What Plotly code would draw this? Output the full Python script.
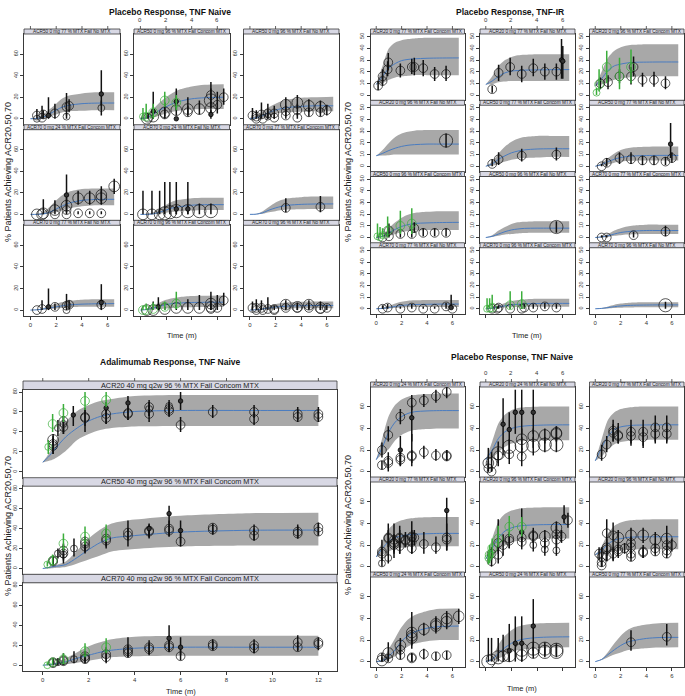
import math
import plotly.graph_objects as go

W, H = 685, 696

# ---------------- data ----------------
T6 = [0, 0.5, 1, 1.5, 2, 2.5, 3, 4, 5, 6.5]
T12 = [0, 0.25, 0.5, 1, 1.5, 2, 2.5, 3, 4, 6, 9, 12]
X6_TICKS = [0, 2, 4, 6]
X12_TICKS = [0, 2, 4, 6, 8, 10, 12]
Y_TICKS_TL = [0, 20, 40, 60]
Y_TICKS_TR = [0, 10, 20, 30, 40, 50]
Y_TICKS_BL = [0, 20, 40, 60, 80]
Y_TICKS_BR = [0, 20, 40, 60]

TITLES = ["Placebo Response, TNF Naive", "Placebo Response, TNF-IR",
          "Adalimumab Response, TNF Naive", "Placebo Response, TNF Naive"]
X_TITLE = "Time (m)"
Y_TITLE = "% Patients Achieving ACR20,50,70"

# observation tuples: (time, % responders, lower CI, upper CI, N, kind)
# kind: 'o' black open circle, 'g' green open circle, 'd' small black dot

# ---- Placebo Response, TNF Naive (top left) ----
tl11 = dict(strip="ACR50 0 mg 77 % MTX Fail No MTX",
            med=[0, 0.3, 1.5, 4.5, 8, 11, 12.5, 14, 14.5, 14.6],
            lo=[0, 0, 0.5, 2, 4, 6, 7, 7.5, 8, 8],
            hi=[0.5, 1, 4, 9, 14, 19, 21.5, 23.5, 24.5, 24.5],
            obs=[(0.5, 3, 0, 9, 40, 'o'), (0.5, 0, 0, 0, 15, 'o'), (0.9, 1, 0, 12, 40, 'o'),
                 (1.0, 4, 0, 8, 40, 'o'), (1.4, 3, 0, 20, 5, 'd'), (1.9, 5, 0, 14, 40, 'o'),
                 (2.8, 11, 3, 24, 40, 'o'), (2.8, 2, 0, 5, 15, 'o'), (3.0, 12, 6, 18, 40, 'o'),
                 (5.5, 23, 12, 45, 5, 'd'), (5.5, 10, 3, 17, 15, 'o')])
tl12 = dict(strip="ACR50 0 mg 96 % MTX Fail Concom MTX",
            med=[0, 1, 4, 8, 11, 14, 16, 18.5, 19.5, 20],
            lo=[0, 0, 1, 3, 5, 6.5, 7.5, 8.5, 9, 9],
            hi=[1, 3, 9, 15, 20, 24, 27, 30, 31.5, 32],
            obs=[(0.5, 0, 0, 0, 80, 'o'), (0.6, 1, 0, 5, 40, 'o'), (1.0, 7, 0, 25, 5, 'd'),
                 (1.0, 2, 0, 8, 80, 'o'), (1.9, 6, 2, 15, 80, 'o'), (1.9, 4, 0, 10, 40, 'o'),
                 (2.8, 16, 8, 28, 5, 'd'), (2.8, 8, 3, 14, 80, 'o'), (2.8, 0, 0, 0, 5, 'd'),
                 (3.7, 9, 4, 20, 80, 'o'), (3.7, 6, 2, 12, 40, 'o'), (4.6, 9, 4, 17, 80, 'o'),
                 (5.5, 17, 10, 28, 150, 'o'), (5.5, 22, 14, 34, 40, 'o'), (5.5, 10, 5, 16, 80, 'o'),
                 (5.5, 4, 0, 8, 5, 'd'), (6.0, 13, 5, 25, 40, 'o'), (6.5, 20, 13, 28, 40, 'o'),
                 (0.2, 2, 0, 10, 15, 'g'), (0.45, 2, 0, 14, 40, 'g'), (1.0, 6, 0, 14, 40, 'g'),
                 (1.9, 17, 11, 25, 40, 'g'), (2.8, 15, 8, 22, 40, 'g')])
tl13 = dict(strip="ACR50 0 mg 96 % MTX Fail No MTX",
            med=[0, 1, 3, 6, 8, 9.5, 10.5, 11.5, 12, 12],
            lo=[0, 0, 1, 3, 4.5, 5.5, 6, 6.5, 7, 7],
            hi=[1, 3, 7, 11, 14, 16.5, 18, 19.5, 20, 20.5],
            obs=[(0.2, 3, 0, 10, 40, 'o'), (0.5, 2, 0, 8, 40, 'o'), (0.5, 0, 0, 0, 40, 'o'),
                 (0.9, 4, 0, 15, 40, 'o'), (1.0, 0, 0, 0, 40, 'o'), (1.4, 5, 0, 14, 40, 'o'),
                 (1.4, 2, 0, 8, 15, 'o'), (1.9, 1, 0, 4, 40, 'o'), (1.9, 5, 0, 12, 40, 'o'),
                 (2.8, 13, 7, 20, 80, 'o'), (2.8, 7, 2, 12, 40, 'o'), (2.8, 3, 0, 8, 40, 'o'),
                 (3.7, 15, 9, 22, 80, 'o'), (3.7, 8, 3, 14, 40, 'o'), (3.7, 1, 0, 4, 40, 'o'),
                 (4.6, 12, 6, 18, 80, 'o'), (4.6, 6, 2, 10, 40, 'o'), (5.5, 11, 5, 17, 80, 'o'),
                 (5.5, 6, 2, 11, 40, 'o'), (6.0, 8, 3, 13, 40, 'o')])
tl21 = dict(strip="ACR70 0 mg 24 % MTX Fail Concom MTX",
            med=[0, 0, 0.5, 2, 5, 8, 10.5, 13, 13.8, 14],
            lo=[0, 0, 0, 0.5, 2, 4, 5.5, 7.5, 8.5, 8.5],
            hi=[0, 0.5, 2, 7, 13, 18, 21, 23.5, 24, 24],
            obs=[(0.5, 0, 0, 0, 80, 'o'), (0.9, 0, 0, 0, 80, 'o'), (1.0, 1, 0, 14, 80, 'o'),
                 (1.9, 4, 0, 13, 80, 'o'), (1.9, 0, 0, 0, 40, 'o'), (2.8, 18, 8, 37, 5, 'd'),
                 (2.8, 8, 2, 15, 80, 'o'), (2.8, 4, 0, 10, 40, 'o'), (2.8, 0, 0, 0, 40, 'o'),
                 (3.7, 15, 9, 22, 80, 'o'), (3.7, 1, 0, 3, 40, 'o'), (4.6, 15, 9, 22, 80, 'o'),
                 (4.6, 1, 0, 3, 40, 'o'), (5.5, 18, 11, 26, 80, 'o'), (5.5, 15, 9, 22, 80, 'o'),
                 (5.5, 1, 0, 3, 40, 'o'), (6.5, 26, 19, 33, 80, 'o')])
tl22 = dict(strip="ACR70 0 mg 24 % MTX Fail No MTX",
            med=[0, 0, 0.5, 2, 4, 6, 7, 8.5, 9, 9],
            lo=[0, 0, 0, 0.5, 1.5, 2.5, 3, 3.5, 4, 4],
            hi=[0, 0.5, 2, 5, 9, 12, 13.5, 15, 15.5, 15.5],
            obs=[(0.2, 0, 0, 22, 80, 'o'), (0.9, 0, 0, 22, 80, 'o'), (1.5, 0, 0, 22, 80, 'o'),
                 (1.9, 1, 0, 30, 150, 'o'), (2.3, 2, 0, 30, 150, 'o'), (2.8, 3, 0, 30, 150, 'o'),
                 (3.7, 3, 0, 30, 150, 'o'), (4.6, 3, 0, 10, 150, 'o'), (5.5, 3, 0, 10, 150, 'o'),
                 (2.8, 5, 0, 8, 5, 'd'), (3.7, 5, 0, 8, 5, 'd')])
tl23 = dict(strip="ACR70 0 mg 77 % MTX Fail Concom MTX",
            med=[0, 0.2, 1.5, 4, 6, 7.5, 8.5, 9.3, 9.6, 9.7],
            lo=[0, 0, 0.5, 2, 3, 4, 4.5, 4.8, 5, 5],
            hi=[0, 0.5, 3, 7, 11, 13.5, 15, 16, 16.5, 16.5],
            obs=[(2.8, 6, 2, 15, 40, 'o'), (5.5, 7, 2, 17, 40, 'o')])
tl31 = dict(strip="ACR70 0 mg 77 % MTX Fail No MTX",
            med=[0, 0.2, 1, 2, 3, 4, 4.8, 5.5, 5.8, 6],
            lo=[0, 0, 0.3, 1, 1.5, 2, 2.5, 3, 3, 3],
            hi=[0, 0.5, 2, 4, 6, 7.5, 8.5, 9.5, 10, 10],
            obs=[(0.5, 0, 0, 0, 40, 'o'), (0.9, 1, 0, 9, 40, 'o'), (1.4, 3, 0, 20, 5, 'd'),
                 (1.9, 3, 0, 6, 40, 'o'), (2.8, 4, 0, 15, 40, 'o'), (2.8, 0, 0, 0, 15, 'o'),
                 (3.0, 5, 1, 9, 40, 'o'), (5.5, 7, 0, 24, 5, 'd'), (5.5, 5, 1, 9, 40, 'o')])
tl32 = dict(strip="ACR70 0 mg 96 % MTX Fail Concom MTX",
            med=[0, 0.5, 2, 3.5, 5, 6, 6.5, 7, 7.2, 7.3],
            lo=[0, 0, 0.5, 1, 1.5, 2, 2.5, 2.7, 2.8, 2.8],
            hi=[0, 1, 4, 7, 9.5, 11, 12, 13, 13.3, 13.5],
            obs=[(0.5, 0, 0, 0, 80, 'o'), (1.0, 0, 0, 8, 80, 'o'), (1.4, 3, 0, 12, 5, 'd'),
                 (1.9, 1, 0, 3, 80, 'o'), (2.8, 2, 0, 5, 80, 'o'), (3.7, 2, 0, 10, 80, 'o'),
                 (4.6, 2, 0, 14, 80, 'o'), (5.5, 6, 2, 17, 80, 'o'), (5.5, 3, 0, 8, 80, 'o'),
                 (5.5, 1, 0, 3, 40, 'o'), (6.0, 2, 0, 14, 40, 'o'), (6.5, 9, 4, 16, 40, 'o'),
                 (0.2, 0, 0, 4, 40, 'g'), (0.45, 0, 0, 6, 40, 'g'), (1.0, 1, 0, 7, 40, 'g'),
                 (1.9, 3, 0, 8, 40, 'g'), (2.8, 6, 1, 17, 40, 'g')])
tl33 = dict(strip="ACR70 0 mg 96 % MTX Fail No MTX",
            med=[0, 0.3, 1, 2, 2.8, 3.3, 3.7, 4, 4.2, 4.3],
            lo=[0, 0, 0.3, 0.7, 1, 1.2, 1.5, 1.7, 1.8, 1.8],
            hi=[0, 0.5, 2, 4, 5.5, 6.5, 7.2, 7.8, 8, 8],
            obs=[(0.2, 2, 0, 8, 40, 'o'), (0.5, 0, 0, 0, 40, 'o'), (0.5, 2, 0, 10, 40, 'o'),
                 (0.9, 2, 0, 9, 40, 'o'), (1.0, 0, 0, 0, 40, 'o'), (1.4, 1, 0, 12, 40, 'o'),
                 (1.9, 0, 0, 0, 40, 'o'), (1.9, 1, 0, 4, 40, 'o'), (2.8, 5, 1, 9, 80, 'o'),
                 (2.8, 2, 0, 5, 40, 'o'), (3.7, 3, 0, 7, 80, 'o'), (3.7, 2, 0, 5, 40, 'o'),
                 (4.6, 5, 1, 9, 80, 'o'), (4.6, 2, 0, 5, 40, 'o'), (5.5, 2, 0, 8, 80, 'o'),
                 (5.5, 1, 0, 3, 40, 'o'), (6.0, 2, 0, 5, 40, 'o')])

# ---- Placebo Response, TNF-IR (top right) ----
tr11 = dict(strip="ACR20 0 mg 77 % MTX Fail Concom MTX",
            med=[9, 16, 23, 27, 29.5, 30.5, 31, 31.5, 31.7, 31.8],
            lo=[9, 10, 13, 15, 16, 16.5, 17, 17, 17, 17],
            hi=[9, 25, 40, 45, 47, 48, 48.5, 49, 49, 49],
            obs=[(0.15, 8, 4, 12, 40, 'o'), (0.5, 12, 8, 17, 40, 'o'), (0.5, 16, 11, 22, 40, 'o'),
                 (0.9, 22, 16, 29, 40, 'o'), (0.95, 28, 21, 36, 40, 'o'), (1.9, 21, 15, 27, 40, 'o'),
                 (2.8, 24, 18, 31, 40, 'o'), (3.0, 24, 17, 32, 40, 'o'), (3.7, 23, 16, 30, 40, 'o'),
                 (4.6, 18, 12, 24, 40, 'o'), (5.5, 18, 12, 25, 40, 'o')])
tr12 = dict(strip="ACR20 0 mg 77 % MTX Fail No MTX",
            med=[9, 12, 16, 19, 20.5, 21, 21.3, 21.5, 21.7, 21.8],
            lo=[9, 9.5, 11, 11.5, 12, 12, 12, 12, 12, 12],
            hi=[9, 16, 25, 30, 32.5, 34, 34.5, 35, 35, 35],
            obs=[(0.5, 5, 2, 8, 40, 'o'), (1.0, 19, 12, 26, 40, 'o'), (1.9, 24, 17, 32, 40, 'o'),
                 (2.8, 18, 11, 25, 40, 'o'), (3.7, 23, 16, 31, 40, 'o'), (4.6, 20, 13, 27, 40, 'o'),
                 (5.5, 20, 13, 27, 40, 'o'), (5.9, 30, 14, 48, 5, 'd'), (6.0, 29, 14, 42, 5, 'd')])
tr13 = dict(strip="ACR20 0 mg 96 % MTX Fail Concom MTX",
            med=[8, 14, 21, 25, 26.5, 27.5, 28, 28.2, 28.3, 28.3],
            lo=[8, 9, 11, 13, 14, 15, 15.5, 16, 16, 16],
            hi=[8, 20, 32, 38, 41, 42.5, 43, 43.5, 43.5, 43.5],
            obs=[(0.4, 10, 5, 15, 40, 'o'), (1.0, 11, 5, 17, 40, 'o'), (1.9, 16, 10, 22, 40, 'o'),
                 (2.8, 16, 9, 24, 40, 'o'), (3.0, 24, 16, 33, 40, 'o'), (3.7, 13, 7, 19, 40, 'o'),
                 (4.6, 13, 7, 20, 40, 'o'), (5.5, 10, 5, 16, 40, 'o'),
                 (0.1, 2, 0, 6, 15, 'g'), (0.3, 9, 3, 22, 40, 'g'), (0.9, 24, 10, 38, 40, 'g'),
                 (1.9, 16, 5, 32, 40, 'g'), (2.8, 24, 10, 39, 40, 'g')])
tr21 = dict(strip="ACR20 0 mg 96 % MTX Fail No MTX",
            med=[9, 11, 13.5, 15.5, 17, 18, 18.5, 19, 19, 19],
            lo=[9, 9.2, 9.5, 10, 10, 10, 10, 10, 10, 10],
            hi=[9, 14, 20, 25, 28, 29.5, 30.5, 31, 31, 31],
            obs=[(5.5, 22, 16, 28, 150, 'o')])
tr22 = dict(strip="ACR50 0 mg 77 % MTX Fail Concom MTX",
            med=[0, 2, 6, 9, 11.5, 13, 14, 14.8, 15, 15],
            lo=[0, 0.5, 2, 4, 5.5, 6.5, 7, 7.5, 8, 8],
            hi=[0, 4, 11, 17, 21, 23.5, 25, 26, 26, 26],
            obs=[(0.5, 2, 0, 6, 40, 'o'), (1.0, 6, 1, 12, 40, 'o'), (2.8, 9, 4, 15, 40, 'o'),
                 (5.5, 10, 5, 16, 40, 'o')])
tr23 = dict(strip="ACR50 0 mg 77 % MTX Fail No MTX",
            med=[0, 1.5, 4, 6, 7.5, 8.3, 8.8, 9.2, 9.3, 9.3],
            lo=[0, 0.5, 1.5, 3, 4, 4.5, 4.8, 5, 5, 5],
            hi=[0, 3, 7, 11, 14, 15.5, 16.3, 16.8, 17, 17],
            obs=[(0.5, 0, 0, 2, 40, 'o'), (0.9, 3, 0, 7, 40, 'o'), (1.9, 7, 2, 12, 40, 'o'),
                 (2.8, 6, 2, 12, 40, 'o'), (3.7, 5, 1, 9, 40, 'o'), (4.6, 5, 1, 9, 40, 'o'),
                 (5.5, 4, 1, 8, 40, 'o'), (5.9, 19, 7, 37, 5, 'd'), (6.0, 7, 3, 12, 40, 'o')])
tr31 = dict(strip="ACR50 0 mg 96 % MTX Fail Concom MTX",
            med=[0, 1, 4, 7, 9.5, 11, 12, 12.5, 12.8, 13],
            lo=[0, 0.5, 1.5, 3, 4.5, 5.5, 6, 6.5, 6.5, 6.5],
            hi=[0, 2, 8, 13, 17, 19.5, 21, 22, 22.5, 22.5],
            obs=[(0.5, 0, 0, 0, 40, 'o'), (1.0, 1, 0, 3, 40, 'o'), (1.0, 6, 1, 12, 40, 'o'),
                 (1.9, 3, 0, 6, 40, 'o'), (2.8, 3, 0, 6, 40, 'o'), (3.0, 8, 4, 13, 40, 'o'),
                 (3.7, 4, 1, 8, 40, 'o'), (4.6, 4, 1, 8, 40, 'o'), (5.5, 4, 1, 8, 40, 'o'),
                 (0.1, 1, 0, 12, 15, 'g'), (0.3, 0, 0, 9, 15, 'g'), (0.5, 2, 0, 8, 15, 'g'),
                 (0.9, 6, 0, 18, 40, 'g'), (1.9, 10, 3, 23, 40, 'g'), (2.8, 12, 3, 25, 40, 'g')])
tr32 = dict(strip="ACR50 0 mg 96 % MTX Fail No MTX",
            med=[0, 1, 3, 5, 6.5, 7.3, 7.8, 8, 8, 8],
            lo=[0, 0.5, 1.5, 2.5, 3, 3.5, 3.8, 4, 4, 4],
            hi=[0, 2, 6, 9, 11.5, 13, 13.5, 14, 14, 14],
            obs=[(5.5, 9, 4, 14, 150, 'o')])
tr33 = dict(strip="ACR70 0 mg 77 % MTX Fail Concom MTX",
            med=[0, 0.5, 1.5, 3, 4.3, 5, 5.5, 6, 6, 6],
            lo=[0, 0, 0.5, 1.5, 2, 2.5, 2.8, 3, 3, 3],
            hi=[0, 1, 3, 6, 8, 9.5, 10.3, 11, 11, 11],
            obs=[(0.5, 0, 0, 2, 40, 'o'), (0.9, 0, 0, 2, 40, 'o'), (3.0, 2, 0, 5, 40, 'o'),
                 (5.5, 5, 1, 10, 40, 'o')])
tr41 = dict(strip="ACR70 0 mg 77 % MTX Fail No MTX",
            med=[0, 0.3, 1, 2, 2.8, 3.3, 3.6, 3.8, 4, 4],
            lo=[0, 0, 0.3, 0.7, 1, 1.2, 1.4, 1.5, 1.5, 1.5],
            hi=[0, 0.8, 2.5, 4.5, 6, 6.8, 7.2, 7.5, 7.5, 7.5],
            obs=[(0.5, 0, 0, 3, 40, 'o'), (0.9, 1, 0, 4, 40, 'o'), (1.9, 0, 0, 2, 40, 'o'),
                 (2.8, 1, 0, 4, 40, 'o'), (3.7, 0, 0, 2, 40, 'o'), (4.6, 0, 0, 2, 40, 'o'),
                 (5.5, 2, 0, 5, 40, 'o'), (5.9, 1, 0, 12, 5, 'd'), (6.0, 0, 0, 2, 40, 'o')])
tr42 = dict(strip="ACR70 0 mg 96 % MTX Fail Concom MTX",
            med=[0, 0.5, 1.5, 2.5, 3.3, 3.8, 4.2, 4.5, 4.6, 4.6],
            lo=[0, 0, 0.5, 1, 1.3, 1.5, 1.7, 1.8, 1.8, 1.8],
            hi=[0, 1, 3, 5, 6.5, 7.5, 8, 8.5, 8.5, 8.5],
            obs=[(0.5, 0, 0, 0, 40, 'o'), (0.9, 0, 0, 2, 40, 'o'), (1.0, 1, 0, 3, 40, 'o'),
                 (1.9, 0, 0, 2, 40, 'o'), (2.8, 0, 0, 2, 40, 'o'), (3.0, 1, 0, 4, 40, 'o'),
                 (3.7, 1, 0, 4, 40, 'o'), (4.6, 2, 0, 5, 40, 'o'), (5.5, 1, 0, 4, 40, 'o'),
                 (0.1, 0, 0, 9, 15, 'g'), (0.3, 0, 0, 9, 15, 'g'), (0.5, 1, 0, 12, 40, 'g'),
                 (1.9, 3, 0, 15, 40, 'g'), (2.8, 4, 0, 15, 40, 'g')])
tr43 = dict(strip="ACR70 0 mg 96 % MTX Fail No MTX",
            med=[0, 0.3, 1, 1.8, 2.4, 2.8, 3, 3.2, 3.3, 3.3],
            lo=[0, 0, 0.3, 0.6, 0.8, 1, 1.1, 1.2, 1.2, 1.2],
            hi=[0, 0.6, 2, 3.5, 4.5, 5, 5.3, 5.5, 5.5, 5.5],
            obs=[(5.5, 3, 0, 6, 150, 'o')])

# ---- Adalimumab Response, TNF Naive (bottom left) ----
bl1 = dict(strip="ACR20 40 mg q2w 96 % MTX Fail Concom MTX",
           med=[9.7, 15, 22, 35, 44, 51, 55.5, 58, 60.5, 61.5, 61.5, 61.5],
           lo=[9.5, 11, 13, 21, 32, 38, 42, 44, 45.5, 46, 46, 46],
           hi=[10, 18, 28, 50, 61, 67, 71, 73, 76, 77, 77, 77],
           obs=[(0.45, 32, 18, 38, 80, 'o'), (0.45, 28, 20, 36, 40, 'o'), (0.45, 26, 18, 34, 40, 'o'),
                (0.66, 44, 36, 52, 15, 'o'), (0.9, 51, 38, 56, 40, 'o'), (0.9, 45, 38, 52, 40, 'o'),
                (0.9, 48, 40, 56, 15, 'o'), (1.33, 57, 46, 66, 5, 'd'), (1.84, 55, 40, 64, 40, 'o'),
                (1.84, 54, 46, 62, 40, 'o'), (2.76, 64, 56, 70, 5, 'd'), (2.76, 58, 48, 63, 40, 'o'),
                (2.76, 54, 48, 62, 40, 'o'), (3.71, 69, 63, 76, 5, 'd'), (3.71, 59, 52, 66, 40, 'o'),
                (3.71, 58, 52, 64, 40, 'o'), (4.63, 65, 56, 72, 40, 'o'), (4.63, 63, 56, 70, 15, 'o'),
                (4.63, 58, 50, 66, 40, 'o'), (5.5, 66, 58, 72, 15, 'o'), (5.5, 63, 56, 70, 40, 'o'),
                (5.5, 61, 55, 68, 40, 'o'), (6.0, 71, 62, 80, 5, 'd'), (6.0, 47, 40, 55, 40, 'o'),
                (7.4, 60, 54, 67, 40, 'o'), (9.2, 60, 54, 67, 40, 'o'), (9.2, 53, 47, 60, 40, 'o'),
                (11.1, 58, 52, 65, 40, 'o'), (11.1, 55, 50, 62, 40, 'o'), (12.0, 58, 52, 65, 40, 'o'),
                (12.0, 55, 50, 62, 40, 'o'),
                (0.24, 25, 18, 32, 15, 'g'), (0.43, 48, 40, 58, 40, 'g'), (0.9, 59, 50, 68, 40, 'g'),
                (1.84, 71, 62, 80, 40, 'g'), (2.76, 72, 65, 80, 40, 'g')])
bl2 = dict(strip="ACR50 40 mg q2w 96 % MTX Fail Concom MTX",
           med=[0, 1, 2, 4, 11, 19, 26, 30.5, 33, 36.5, 38.3, 38.5],
           lo=[0, 0, 0.5, 1.5, 5, 9, 13, 17, 19.5, 22, 23, 23],
           hi=[0, 1.5, 3, 7, 18, 30, 39, 45, 49, 53, 55.5, 56],
           obs=[(0.45, 7, 3, 12, 40, 'o'), (0.45, 8, 4, 13, 40, 'o'), (0.66, 15, 10, 20, 15, 'o'),
                (0.9, 18, 10, 25, 40, 'o'), (0.9, 15, 5, 24, 40, 'o'), (0.9, 14, 8, 20, 15, 'o'),
                (1.36, 20, 12, 30, 15, 'o'), (1.84, 27, 18, 32, 40, 'o'), (1.84, 25, 15, 32, 40, 'o'),
                (1.84, 22, 16, 28, 40, 'o'), (2.76, 30, 20, 40, 40, 'o'), (2.76, 28, 22, 34, 40, 'o'),
                (3.71, 36, 28, 48, 40, 'o'), (3.71, 33, 22, 40, 40, 'o'), (4.63, 40, 30, 45, 5, 'd'),
                (4.63, 38, 32, 44, 40, 'o'), (4.63, 37, 31, 43, 40, 'o'), (5.5, 40, 32, 48, 40, 'o'),
                (5.5, 38, 32, 45, 40, 'o'), (5.5, 55, 45, 63, 5, 'd'), (6.0, 38, 25, 48, 5, 'd'),
                (6.0, 27, 22, 35, 40, 'o'), (7.4, 41, 34, 45, 40, 'o'), (7.4, 39, 34, 44, 40, 'o'),
                (9.2, 38, 28, 44, 40, 'o'), (9.2, 33, 28, 40, 40, 'o'), (11.1, 37, 30, 44, 40, 'o'),
                (11.1, 35, 30, 42, 40, 'o'), (12.0, 41, 33, 46, 40, 'o'), (12.0, 37, 33, 44, 40, 'o'),
                (0.2, 4, 2, 7, 15, 'g'), (0.43, 8, 3, 14, 40, 'g'), (0.9, 25, 18, 35, 40, 'g'),
                (1.84, 32, 24, 42, 40, 'g'), (2.76, 35, 27, 44, 40, 'g')])
bl3 = dict(strip="ACR70 40 mg q2w 96 % MTX Fail Concom MTX",
           med=[0, 0.5, 1.2, 3.5, 7, 10, 13, 15, 17, 18, 18, 18],
           lo=[0, 0, 0.3, 1, 2.5, 4.5, 6.5, 8, 9, 9.5, 9.5, 9.5],
           hi=[0, 1, 2.5, 7, 13, 19, 23, 26, 28.5, 29.5, 29.5, 29.5],
           obs=[(0.45, 2, 0, 6, 40, 'o'), (0.45, 3, 0, 7, 40, 'o'), (0.66, 3, 0, 7, 15, 'o'),
                (0.9, 5, 0, 12, 40, 'o'), (0.9, 4, 1, 8, 40, 'o'), (1.36, 6, 2, 14, 15, 'o'),
                (1.84, 9, 4, 14, 40, 'o'), (1.84, 7, 3, 12, 40, 'o'), (1.84, 6, 2, 10, 40, 'o'),
                (2.76, 11, 4, 18, 40, 'o'), (2.76, 8, 2, 14, 40, 'o'), (3.71, 16, 8, 28, 40, 'o'),
                (3.71, 14, 9, 20, 40, 'o'), (3.71, 12, 8, 18, 40, 'o'), (4.63, 18, 10, 25, 40, 'o'),
                (4.63, 16, 11, 22, 40, 'o'), (5.5, 27, 18, 40, 5, 'd'), (5.5, 20, 14, 26, 40, 'o'),
                (5.5, 18, 13, 24, 40, 'o'), (6.0, 18, 10, 28, 5, 'd'), (6.0, 9, 5, 15, 40, 'o'),
                (7.4, 21, 15, 26, 40, 'o'), (7.4, 19, 15, 24, 40, 'o'), (9.2, 20, 12, 26, 40, 'o'),
                (9.2, 17, 12, 22, 40, 'o'), (11.1, 23, 15, 30, 40, 'o'), (11.1, 18, 14, 24, 40, 'o'),
                (12.0, 23, 15, 28, 40, 'o'), (12.0, 21, 16, 26, 40, 'o'),
                (0.2, 0, 0, 3, 15, 'g'), (0.43, 3, 0, 7, 40, 'g'), (0.9, 6, 1, 12, 40, 'g'),
                (1.84, 14, 8, 22, 40, 'g'), (2.76, 18, 12, 27, 40, 'g')])

# ---- Placebo Response, TNF Naive (bottom right) ----
br11 = dict(strip="ACR20 0 mg 24 % MTX Fail Concom MTX",
            med=[11, 23, 37, 46, 51, 54, 55.5, 56.3, 56.6, 56.6],
            lo=[11, 16, 21, 29, 34, 37, 38.5, 39.5, 40, 40],
            hi=[11, 32, 52, 62, 67, 69.5, 71, 72, 72.5, 72.5],
            obs=[(0.45, 20, 13, 27, 40, 'o'), (0.45, 6, 2, 10, 40, 'o'), (0.95, 34, 28, 42, 40, 'o'),
                 (0.95, 10, 0, 18, 40, 'o'), (0.95, 8, 3, 14, 40, 'o'), (1.9, 51, 44, 58, 40, 'o'),
                 (1.9, 20, 5, 33, 5, 'd'), (1.9, 13, 6, 20, 40, 'o'), (1.9, 11, 6, 17, 40, 'o'),
                 (2.8, 64, 57, 71, 40, 'o'), (2.8, 50, 28, 62, 5, 'd'), (2.8, 15, 5, 35, 40, 'o'),
                 (2.8, 14, 8, 20, 40, 'o'), (3.75, 66, 60, 72, 40, 'o'), (3.75, 18, 12, 24, 40, 'o'),
                 (4.7, 70, 64, 76, 40, 'o'), (4.7, 15, 10, 21, 40, 'o'), (5.55, 74, 68, 79, 40, 'o'),
                 (5.55, 15, 10, 20, 40, 'o'), (5.55, 14, 10, 20, 40, 'o')])
br12 = dict(strip="ACR20 0 mg 24 % MTX Fail No MTX",
            med=[11, 20, 31, 37, 40, 41.5, 42.3, 43, 43.3, 43.4],
            lo=[11, 13, 18, 23, 26, 27.5, 28.3, 28.8, 29, 29],
            hi=[11, 28, 45, 53, 57, 59, 59.8, 60.2, 60.3, 60.3],
            obs=[(0.2, 8, 0, 22, 80, 'o'), (0.2, 3, 0, 10, 40, 'o'), (0.45, 8, 0, 18, 80, 'o'),
                 (0.45, 0, 0, 2, 40, 'o'), (0.97, 17, 5, 28, 150, 'o'), (0.97, 15, 8, 22, 40, 'o'),
                 (1.35, 44, 15, 68, 5, 'd'), (1.83, 39, 25, 55, 5, 'd'), (1.83, 23, 12, 30, 150, 'o'),
                 (1.83, 16, 7, 25, 40, 'o'), (2.3, 55, 35, 76, 5, 'd'), (2.8, 55, 35, 76, 5, 'd'),
                 (2.8, 30, 20, 40, 80, 'o'), (2.8, 24, 15, 32, 150, 'o'), (2.8, 14, 5, 22, 40, 'o'),
                 (3.7, 55, 35, 76, 5, 'd'), (3.7, 33, 22, 40, 80, 'o'), (3.7, 24, 15, 32, 150, 'o'),
                 (4.6, 34, 26, 40, 80, 'o'), (4.6, 25, 18, 32, 150, 'o'), (5.5, 36, 28, 42, 80, 'o'),
                 (5.5, 35, 28, 42, 80, 'o'), (5.5, 25, 18, 32, 150, 'o')])
br13 = dict(strip="ACR20 0 mg 77 % MTX Fail Concom MTX",
            med=[10, 22, 33, 39, 41.5, 42.5, 43, 43.3, 43.4, 43.4],
            lo=[10, 14, 21, 25.5, 27.5, 28.5, 29, 29.4, 29.5, 29.5],
            hi=[10, 30, 48, 55, 58, 59.3, 60, 60.3, 60.3, 60.3],
            obs=[(0.5, 16, 10, 25, 40, 'o'), (0.9, 25, 18, 33, 40, 'o'), (1.4, 38, 28, 48, 40, 'o'),
                 (1.4, 36, 28, 44, 40, 'o'), (1.8, 34, 26, 45, 40, 'o'), (1.8, 33, 26, 42, 40, 'o'),
                 (2.8, 37, 24, 48, 40, 'o'), (2.8, 33, 26, 42, 40, 'o'), (3.75, 37, 22, 48, 40, 'o'),
                 (3.75, 32, 24, 40, 40, 'o'), (4.7, 41, 26, 52, 40, 'o'), (4.7, 35, 28, 44, 40, 'o'),
                 (5.6, 41, 26, 52, 40, 'o'), (5.6, 35, 28, 44, 40, 'o')])
br21 = dict(strip="ACR20 0 mg 77 % MTX Fail No MTX",
            med=[9, 17, 23.5, 27, 28.5, 29.5, 30, 30.5, 30.8, 30.8],
            lo=[9, 11, 14, 16.5, 17.5, 18.3, 18.7, 19, 19, 19],
            hi=[9, 24, 35, 40.5, 43, 44.5, 45.2, 45.8, 46, 46],
            obs=[(0.45, 14, 5, 25, 40, 'o'), (0.45, 12, 6, 18, 40, 'o'), (0.45, 3, 0, 8, 15, 'o'),
                 (0.95, 27, 10, 40, 40, 'o'), (0.95, 26, 18, 34, 40, 'o'), (0.95, 8, 3, 14, 15, 'o'),
                 (1.4, 25, 8, 40, 40, 'o'), (1.4, 22, 14, 30, 40, 'o'), (1.4, 20, 12, 28, 40, 'o'),
                 (1.85, 27, 12, 38, 40, 'o'), (1.85, 26, 18, 34, 40, 'o'), (1.85, 19, 12, 26, 40, 'o'),
                 (2.3, 25, 18, 32, 40, 'o'), (2.3, 24, 18, 30, 40, 'o'), (2.8, 28, 12, 42, 40, 'o'),
                 (2.8, 27, 20, 34, 40, 'o'), (2.8, 23, 16, 30, 40, 'o'), (2.8, 17, 12, 24, 40, 'o'),
                 (3.0, 27, 20, 34, 40, 'o'), (3.75, 21, 12, 32, 40, 'o'), (4.7, 18, 12, 28, 40, 'o'),
                 (5.55, 27, 15, 40, 40, 'o'), (5.55, 25, 18, 32, 40, 'o'), (5.55, 52, 15, 64, 5, 'd')])
br22 = dict(strip="ACR20 0 mg 96 % MTX Fail Concom MTX",
            med=[7, 17, 27, 33, 36, 37.5, 38.2, 38.8, 39, 39],
            lo=[7, 10, 15, 19.5, 22.5, 24, 25, 25.7, 26, 26],
            hi=[7, 26, 42, 49, 52, 53.5, 54.3, 54.8, 55, 55],
            obs=[(0.45, 5, 0, 10, 40, 'o'), (0.45, 12, 6, 18, 40, 'o'), (0.97, 22, 12, 44, 40, 'o'),
                 (0.97, 11, 3, 20, 40, 'o'), (1.35, 20, 10, 30, 40, 'o'), (1.83, 26, 17, 32, 40, 'o'),
                 (1.83, 24, 17, 30, 40, 'o'), (2.8, 32, 24, 54, 5, 'd'), (2.8, 27, 20, 34, 40, 'o'),
                 (2.8, 23, 16, 30, 40, 'o'), (3.7, 29, 22, 36, 40, 'o'), (3.7, 28, 22, 34, 40, 'o'),
                 (3.7, 20, 14, 26, 15, 'o'), (4.6, 28, 22, 34, 80, 'o'), (4.6, 22, 16, 28, 40, 'o'),
                 (4.6, 16, 10, 22, 15, 'o'), (5.5, 36, 28, 42, 80, 'o'), (5.5, 30, 22, 38, 40, 'o'),
                 (5.5, 25, 18, 32, 40, 'o'), (5.5, 15, 10, 22, 15, 'o'), (5.9, 28, 22, 34, 40, 'o'),
                 (6.1, 46, 40, 57, 5, 'd'), (6.4, 43, 36, 50, 40, 'o'),
                 (0.2, 8, 2, 14, 15, 'g'), (0.3, 11, 3, 20, 40, 'g'), (0.5, 17, 8, 26, 40, 'g'),
                 (0.97, 26, 18, 38, 40, 'g'), (1.83, 37, 28, 47, 40, 'g'), (2.8, 37, 28, 46, 40, 'g')])
br23 = dict(strip="ACR20 0 mg 96 % MTX Fail No MTX",
            med=[11, 15, 21, 24.5, 26, 27, 27.4, 27.6, 27.7, 27.7],
            lo=[11, 11.5, 12.5, 14, 15, 15.5, 15.8, 16, 16, 16],
            hi=[11, 19, 31, 38, 41, 42.5, 43.3, 43.8, 44, 44],
            obs=[(0.3, 12, 6, 18, 40, 'o'), (0.5, 9, 0, 18, 40, 'o'), (0.5, 4, 0, 10, 40, 'o'),
                 (0.5, 1, 0, 5, 40, 'o'), (0.9, 31, 5, 44, 40, 'o'), (0.9, 18, 10, 26, 40, 'o'),
                 (0.9, 16, 10, 22, 40, 'o'), (0.9, 10, 5, 16, 40, 'o'), (1.4, 29, 5, 41, 40, 'o'),
                 (1.4, 12, 6, 18, 40, 'o'), (1.8, 27, 10, 34, 80, 'o'), (1.8, 16, 10, 22, 40, 'o'),
                 (1.8, 14, 8, 20, 40, 'o'), (2.3, 17, 12, 22, 40, 'o'), (2.8, 29, 20, 36, 80, 'o'),
                 (2.8, 22, 16, 28, 40, 'o'), (2.8, 18, 12, 24, 40, 'o'), (2.8, 12, 8, 16, 40, 'o'),
                 (2.8, 9, 5, 13, 40, 'o'), (3.75, 29, 22, 36, 80, 'o'), (3.75, 14, 8, 20, 40, 'o'),
                 (3.75, 13, 8, 18, 40, 'o'), (4.7, 25, 18, 32, 80, 'o'), (4.7, 17, 12, 22, 40, 'o'),
                 (4.7, 14, 10, 18, 40, 'o'), (5.6, 26, 18, 38, 80, 'o'), (5.6, 20, 14, 26, 40, 'o'),
                 (5.6, 15, 10, 20, 40, 'o'), (5.6, 12, 8, 16, 40, 'o'), (6.0, 20, 14, 26, 40, 'o')])
br31 = dict(strip="ACR50 0 mg 24 % MTX Fail Concom MTX",
            med=[0, 1, 5, 11, 19, 24, 27.5, 31, 32.5, 33],
            lo=[0, 0.5, 2, 5, 10, 14, 16.5, 19, 20, 20],
            hi=[0, 2, 12, 22, 32, 39, 43, 47, 49, 49.3],
            obs=[(0.45, 4, 0, 8, 40, 'o'), (0.45, 1, 0, 4, 80, 'o'), (0.95, 8, 0, 18, 80, 'o'),
                 (0.95, 3, 0, 7, 40, 'o'), (1.9, 15, 8, 22, 80, 'o'), (1.9, 11, 6, 17, 40, 'o'),
                 (1.9, 6, 2, 10, 40, 'o'), (2.8, 27, 12, 46, 80, 'o'), (2.8, 24, 16, 32, 80, 'o'),
                 (2.8, 22, 15, 30, 80, 'o'), (2.8, 4, 0, 8, 40, 'o'), (2.8, 3, 0, 7, 40, 'o'),
                 (3.75, 30, 24, 36, 80, 'o'), (3.75, 7, 2, 12, 40, 'o'), (4.7, 35, 28, 42, 80, 'o'),
                 (4.7, 33, 26, 40, 80, 'o'), (4.7, 5, 1, 9, 40, 'o'), (5.55, 40, 33, 47, 80, 'o'),
                 (5.55, 37, 30, 44, 80, 'o'), (5.55, 6, 2, 10, 40, 'o'), (6.5, 42, 35, 49, 80, 'o')])
br32 = dict(strip="ACR50 0 mg 24 % MTX Fail No MTX",
            med=[0, 2, 8, 13, 17, 19.5, 21, 22.3, 22.8, 23],
            lo=[0, 0.5, 3, 6, 9, 10.5, 11.5, 12.5, 13, 13.3],
            hi=[0, 4, 16, 24, 29, 32.5, 34, 35.3, 35.8, 36],
            obs=[(0.2, 0, 0, 22, 150, 'o'), (0.45, 2, 0, 22, 80, 'o'), (0.97, 4, 0, 22, 150, 'o'),
                 (1.35, 5, 0, 25, 80, 'o'), (1.83, 10, 0, 35, 5, 'd'), (1.83, 6, 0, 12, 150, 'o'),
                 (2.3, 17, 0, 42, 5, 'd'), (2.8, 17, 0, 42, 5, 'd'), (2.8, 11, 4, 18, 150, 'o'),
                 (2.8, 6, 0, 12, 80, 'o'), (3.7, 33, 10, 58, 5, 'd'), (3.7, 12, 6, 18, 150, 'o'),
                 (3.7, 8, 3, 14, 80, 'o'), (4.6, 12, 6, 18, 150, 'o'), (4.6, 9, 4, 14, 150, 'o'),
                 (5.5, 11, 6, 17, 150, 'o'), (5.5, 9, 4, 14, 150, 'o')])
br33 = dict(strip="ACR50 0 mg 77 % MTX Fail Concom MTX",
            med=[0, 2, 6.5, 11, 15, 18, 19.5, 21.5, 22.3, 22.5],
            lo=[0, 1.5, 4, 6.5, 8.5, 10.5, 11.5, 12.5, 13, 13.3],
            hi=[0, 2.5, 9, 17, 24, 29, 32, 34.5, 35.7, 36],
            obs=[(2.8, 18, 10, 29, 40, 'o'), (5.6, 23, 15, 35, 40, 'o')])

# ---------------- layout geometry (pixels) ----------------
COLS3_L = [(24, 120), (134, 229.5), (243.5, 339)]
COLS3_R = [(370.5, 464.5), (480, 575), (589.5, 684)]
GROUPS = [
    dict(panels=[[tl11, tl12, tl13], [tl21, tl22, tl23], [tl31, tl32, tl33]],
         cols=COLS3_L, rows=[29, 124.7, 220.3, 316], strip=5, t=T6,
         xr=[-0.5, 6.95], yr=[-5.5, 78.6], xt=X6_TICKS, yt=Y_TICKS_TL, sfont=4.7,
         title=TITLES[0], tpos=(170, 12), xlab=(182, 335), ylab=(8, 172), toplab=True),
    dict(panels=[[tr11, tr12, tr13], [tr21, tr22, tr23], [tr31, tr32, tr33], [tr41, tr42, tr43]],
         cols=COLS3_R, rows=[29, 100.25, 171.5, 242.75, 314], strip=5, t=T6,
         xr=[-0.45, 6.95], yr=[-4.5, 52.3], xt=X6_TICKS, yt=Y_TICKS_TR, sfont=4.7,
         title=TITLES[1], tpos=(510, 12), xlab=(527, 335), ylab=(348, 172), toplab=True),
    dict(panels=[[bl1], [bl2], [bl3]],
         cols=[(23, 337)], rows=[381, 477.7, 574.3, 671], strip=8.5, t=T12,
         xr=[-0.86, 12.81], yr=[-5.8, 82.5], xt=X12_TICKS, yt=Y_TICKS_BL, sfont=7.3,
         title=TITLES[2], tpos=(170, 362), xlab=(181, 691), ylab=(8, 526), toplab=False),
    dict(panels=[[br11, br12, br13], [br21, br22, br23], [br31, br32, br33]],
         cols=COLS3_R, rows=[382, 477, 572, 667], strip=5, t=T6,
         xr=[-0.45, 6.95], yr=[-5, 78.5], xt=X6_TICKS, yt=Y_TICKS_BR, sfont=4.7,
         title=TITLES[3], tpos=(512, 357), xlab=(522, 688), ylab=(348, 525), toplab=True),
]

BAND = "#A8A8A8"
MEDIAN = "#4A7CC0"
BLACK = "#111111"
GREEN = "#3BAE3B"
STRIP_BG = "#D8D8E4"
LINE = "#3A3A3A"
FONT = "Liberation Sans, Arial, sans-serif"


def px(x):
    return x / W


def py(y):
    return 1 - y / H


fig = go.Figure()
layout = dict(width=W, height=H, margin=dict(l=0, r=0, t=0, b=0),
              paper_bgcolor="white", plot_bgcolor="white", showlegend=False,
              hovermode=False, font=dict(family=FONT, color="#222"))
shapes, annots = [], []
k = 0
for g in GROUPS:
    nrows = len(g["panels"])
    ncols = len(g["cols"])
    for r in range(nrows):
        for c in range(ncols):
            p = g["panels"][r][c]
            k += 1
            sx = "" if k == 1 else str(k)
            xa, ya = "x" + sx, "y" + sx
            x0, x1 = g["cols"][c]
            top = g["rows"][r]
            bot = g["rows"][r + 1]
            ptop = top + g["strip"]
            is_bottom = r == nrows - 1
            show_lab = is_bottom and (ncols == 1 or c != 1)
            layout["xaxis" + sx] = dict(
                domain=[px(x0), px(x1)], range=g["xr"], anchor=ya,
                showline=True, mirror=True, linecolor=LINE, linewidth=0.8,
                showgrid=False, zeroline=False,
                ticks="outside" if is_bottom else "", tickvals=g["xt"], ticklen=3,
                tickcolor=LINE, showticklabels=show_lab,
                tickfont=dict(size=6, color="#333"))
            layout["yaxis" + sx] = dict(
                domain=[py(bot), py(ptop)], range=g["yr"], anchor=xa,
                showline=True, mirror=True, linecolor=LINE, linewidth=0.8,
                showgrid=False, zeroline=False, ticks="outside", tickvals=g["yt"],
                ticklen=3, tickcolor=LINE, tickangle=-90,
                tickfont=dict(size=5.5, color="#333"))
            # prediction band + median
            t = g["t"]
            fig.add_trace(go.Scatter(x=t, y=p["hi"], xaxis=xa, yaxis=ya, mode="lines",
                                     line=dict(width=0, shape="spline", smoothing=0.8),
                                     hoverinfo="skip"))
            fig.add_trace(go.Scatter(x=t, y=p["lo"], xaxis=xa, yaxis=ya, mode="lines",
                                     line=dict(width=0, shape="spline", smoothing=0.8),
                                     fill="tonexty", fillcolor=BAND, hoverinfo="skip"))
            fig.add_trace(go.Scatter(x=t, y=p["med"], xaxis=xa, yaxis=ya, mode="lines",
                                     line=dict(width=1, color=MEDIAN, shape="spline",
                                               smoothing=0.8)))
            # observations
            for kind in ["o", "d", "g"]:
                pts = [o for o in p["obs"] if o[5] == kind]
                if not pts:
                    continue
                col = GREEN if kind == "g" else BLACK
                xs = [o[0] for o in pts]
                ys = [o[1] for o in pts]
                up = [o[3] - o[1] for o in pts]
                dn = [o[1] - o[2] for o in pts]
                if kind == "d":
                    mk = dict(symbol="circle", size=4.5, color="#333",
                              line=dict(width=0.8, color="#000"))
                else:
                    mk = dict(symbol="circle-open",
                              size=[4 + 0.75 * math.sqrt(o[4]) for o in pts],
                              color=col, line=dict(width=1, color=col))
                fig.add_trace(go.Scatter(
                    x=xs, y=ys, xaxis=xa, yaxis=ya, mode="markers", marker=mk,
                    error_y=dict(type="data", symmetric=False, array=up, arrayminus=dn,
                                 width=0, thickness=1.5, color=col)))
            # strip
            shapes.append(dict(type="rect", xref="paper", yref="paper",
                               x0=px(x0), x1=px(x1), y0=py(ptop), y1=py(top),
                               fillcolor=STRIP_BG, line=dict(color=LINE, width=0.8),
                               layer="above"))
            annots.append(dict(x=px((x0 + x1) / 2), y=py(top + g["strip"] / 2),
                               xref="paper", yref="paper", text=p["strip"],
                               showarrow=False, xanchor="center", yanchor="middle",
                               font=dict(size=g["sfont"], color="#222")))
            # top ticks above first row
            if r == 0:
                for v in g["xt"]:
                    shapes.append(dict(type="line", xref=xa, yref="paper", x0=v, x1=v,
                                       y0=py(top), y1=py(top - 3),
                                       line=dict(color=LINE, width=0.8)))
                    if g["toplab"] and c == 1:
                        annots.append(dict(x=v, y=py(top - 9), xref=xa, yref="paper",
                                           text=str(v), showarrow=False,
                                           xanchor="center", yanchor="middle",
                                           font=dict(size=6, color="#333")))
    # group labels
    annots.append(dict(x=px(g["tpos"][0]), y=py(g["tpos"][1]), xref="paper", yref="paper",
                       text="<b>" + g["title"] + "</b>", showarrow=False,
                       xanchor="center", yanchor="middle",
                       font=dict(size=8.5, color="#111")))
    annots.append(dict(x=px(g["xlab"][0]), y=py(g["xlab"][1]), xref="paper", yref="paper",
                       text=X_TITLE, showarrow=False, xanchor="center", yanchor="middle",
                       font=dict(size=7.5, color="#222")))
    annots.append(dict(x=px(g["ylab"][0]), y=py(g["ylab"][1]), xref="paper", yref="paper",
                       text=Y_TITLE, showarrow=False, textangle=-90,
                       xanchor="center", yanchor="middle",
                       font=dict(size=9, color="#222")))

layout["shapes"] = shapes
layout["annotations"] = annots
fig.update_layout(**layout)
fig.write_html("out.html", config={"displayModeBar": False},
               post_script="document.body.style.margin='0';"
                           "document.body.style.overflow='hidden';")
